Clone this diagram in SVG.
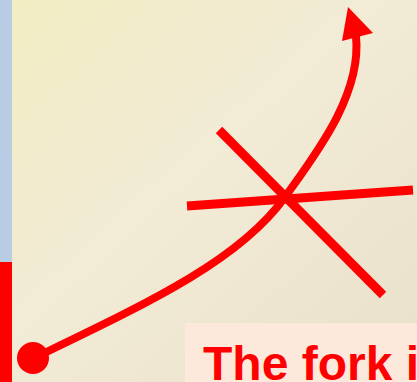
<svg xmlns="http://www.w3.org/2000/svg" width="417" height="382" viewBox="0 0 417 382">
<defs>
<linearGradient id="bg" x1="0" y1="0" x2="1" y2="1">
<stop offset="0" stop-color="#f3edc2"/>
<stop offset="0.45" stop-color="#f2ebd6"/>
<stop offset="1" stop-color="#e9e0c9"/>
</linearGradient>
<style>
.red{stroke:#ff0000;fill:none;stroke-width:9}
.curve{stroke:#ff0000;fill:none;stroke-width:8}
.label{font-family:"Liberation Sans",Arial,sans-serif;font-weight:bold;font-size:48px;fill:#ff0000}
</style>
</defs>
<rect x="0" y="0" width="417" height="382" fill="url(#bg)"/>
<rect x="0" y="0" width="12" height="262" fill="#b8cce4"/>
<rect x="0" y="262" width="12" height="120" fill="#ff0000"/>
<g id="cross">
<line class="red" x1="187" y1="206" x2="413" y2="190"/>
<line class="red" x1="219" y1="130" x2="383" y2="295"/>
</g>
<g id="connectors">
<path class="curve" d="M34,358 C150,302 240,260 285,197 C315,155 362,95 356,36"/>
<polygon points="348,7 342,41 373,33" fill="#ff0000"/>
</g>
<g id="start">
<circle cx="33" cy="358" r="16" fill="#ff0000"/>
</g>
<g id="label">
<rect x="185" y="323" width="232" height="59" fill="#fde9dc"/>
<text class="label" x="203" y="380">The fork i</text>
</g>
</svg>
